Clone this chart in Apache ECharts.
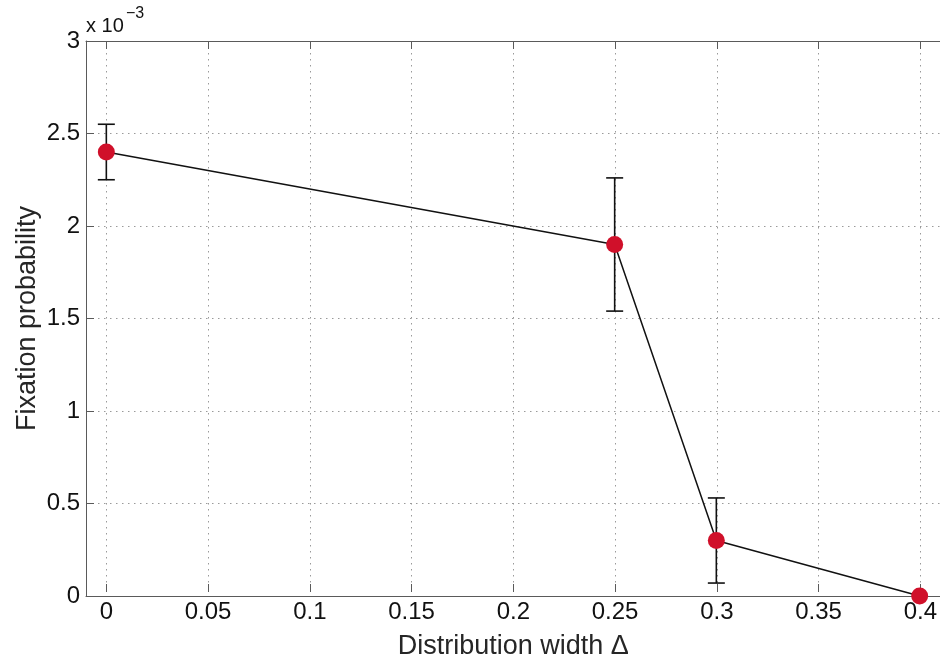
<!DOCTYPE html>
<html>
<head>
<meta charset="utf-8">
<script src="https://cdn.jsdelivr.net/npm/echarts@6/dist/echarts.min.js"></script>
<style>
html,body{margin:0;padding:0;background:#fff;}
#chart{width:940px;height:665px;}
</style>
</head>
<body>
<div id="chart"></div>
<script>
// Data (y in units of 1e-3)
const xValues = [0, 0.25, 0.3, 0.4];
const yValues = [2.4, 1.9, 0.3, 0];
const errLow = [2.25, 1.54, 0.07, null];
const errHigh = [2.55, 2.26, 0.53, null];
const xTickLabels = ['0', '0.05', '0.1', '0.15', '0.2', '0.25', '0.3', '0.35', '0.4'];
const yTickLabels = ['0', '0.5', '1', '1.5', '2', '2.5', '3'];

const FONT = '"Liberation Sans", Arial, Helvetica, sans-serif';
const PX_PER_UNIT = 855 / 0.42;
const padX = 0.01 * PX_PER_UNIT;

const lineData = xValues.map((x, i) => [x, yValues[i]]);
const errData = [];
xValues.forEach((x, i) => {
  if (errLow[i] !== null && errHigh[i] !== null) errData.push([x, errLow[i], errHigh[i]]);
});

const gridDots = { color: '#9a9a9a', width: 1, type: [1.5, 4.5] };
const AXIS_COLOR = '#5a5a5a';

const chart = echarts.init(document.getElementById('chart'), null, { renderer: 'canvas' });
chart.setOption({
  backgroundColor: '#ffffff',
  animation: false,
  grid: [
    { left: 86, top: 41, width: 855, height: 555, show: false },
    { left: 86 + padX, top: 41, width: 855 - 2 * padX, height: 555, show: false }
  ],
  xAxis: [
    { gridIndex: 0, type: 'value', min: -0.01, max: 0.41, position: 'bottom',
      axisLine: { show: true, onZero: false, lineStyle: { color: AXIS_COLOR, width: 1 } },
      axisTick: { show: false }, axisLabel: { show: false }, splitLine: { show: false } },
    { gridIndex: 1, type: 'value', min: 0, max: 0.4, interval: 0.05, position: 'bottom',
      name: 'Distribution width Δ', nameLocation: 'middle', nameGap: 41, nameMoveOverlap: false,
      nameTextStyle: { fontFamily: FONT, fontSize: 27, color: '#262626' },
      axisLine: { show: false },
      axisTick: { show: true, inside: true, length: 8, lineStyle: { color: AXIS_COLOR, width: 1 } },
      axisLabel: { show: true, margin: 8, fontFamily: FONT, fontSize: 24, color: '#111',
        formatter: (v, i) => xTickLabels[i] },
      splitLine: { show: true, lineStyle: gridDots } },
    { gridIndex: 1, type: 'value', min: 0, max: 0.4, interval: 0.05, position: 'top',
      axisLine: { show: false },
      axisTick: { show: true, inside: true, length: 8, lineStyle: { color: AXIS_COLOR, width: 1 } },
      axisLabel: { show: false }, splitLine: { show: false } },
    { gridIndex: 0, type: 'value', min: -0.01, max: 0.41, position: 'top',
      axisLine: { show: true, onZero: false, lineStyle: { color: AXIS_COLOR, width: 1 } },
      axisTick: { show: false }, axisLabel: { show: false }, splitLine: { show: false } }
  ],
  yAxis: [
    { gridIndex: 0, type: 'value', min: 0, max: 3, interval: 0.5,
      name: 'Fixation probability', nameLocation: 'middle', nameGap: 45, nameRotate: 90, nameMoveOverlap: false,
      nameTextStyle: { fontFamily: FONT, fontSize: 27, color: '#262626' },
      axisLine: { show: true, onZero: false, lineStyle: { color: AXIS_COLOR, width: 1 } },
      axisTick: { show: true, inside: true, length: 8, lineStyle: { color: AXIS_COLOR, width: 1 } },
      axisLabel: { show: true, margin: 6, fontFamily: FONT, fontSize: 24, color: '#111',
        formatter: (v, i) => yTickLabels[i] },
      splitLine: { show: true, lineStyle: gridDots } },
    { gridIndex: 1, type: 'value', min: 0, max: 3, show: false }
  ],
  graphic: [
    { type: 'text', left: 86, top: 16, z: 10,
      style: { text: 'x 10', font: '20px ' + FONT, fill: '#111' } },
    { type: 'text', left: 126, top: 6, z: 10,
      style: { text: '−3', font: '16px ' + FONT, fill: '#111' } }
  ],
  series: [
    { type: 'custom', xAxisIndex: 0, yAxisIndex: 0, z: 3, clip: false,
      data: errData,
      renderItem: function (params, api) {
        const x = api.value(0);
        const pLo = api.coord([x, api.value(1)]);
        const pHi = api.coord([x, api.value(2)]);
        const hw = 8.5;
        const st = { stroke: '#111', lineWidth: 1.6, fill: null };
        return { type: 'group', children: [
          { type: 'line', shape: { x1: pLo[0], y1: pLo[1], x2: pHi[0], y2: pHi[1] }, style: st },
          { type: 'line', shape: { x1: pHi[0] - hw, y1: pHi[1], x2: pHi[0] + hw, y2: pHi[1] }, style: st },
          { type: 'line', shape: { x1: pLo[0] - hw, y1: pLo[1], x2: pLo[0] + hw, y2: pLo[1] }, style: st }
        ]};
      } },
    { type: 'line', xAxisIndex: 0, yAxisIndex: 0, z: 4, clip: false,
      data: lineData,
      symbol: 'circle', symbolSize: 17,
      lineStyle: { color: '#111', width: 1.5 },
      itemStyle: { color: '#d0102a', borderWidth: 0 } }
  ]
});
</script>
</body>
</html>
